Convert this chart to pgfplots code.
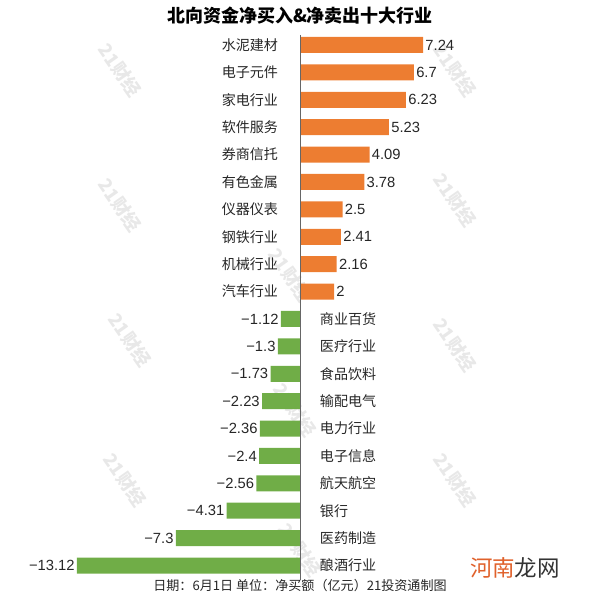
\documentclass[border=0pt]{standalone}
\usepackage{pgfplots}
\pgfplotsset{compat=1.18}
\usepackage{fontspec}
\setmainfont{Liberation Sans}
\newfontfamily\cjk{Noto Sans CJK SC}
\definecolor{barorange}{HTML}{ED7D31}
\definecolor{bargreen}{HTML}{70AD47}
\begin{document}
\begin{tikzpicture}
\useasboundingbox (0,0) rectangle (15cm,15cm);
% watermarks
\foreach \px/\py in {120/70,455/70,120/205,455/200,130/340,455/345,125/480,455/480,290/275,295/410,300/550}{
  \node[rotate=-55, text=black!9, inner sep=0pt, font=\cjk\bfseries\fontsize{13}{13}\selectfont] at ({\px*0.025cm},{15cm-\py*0.025cm}) {21财经};
}
\begin{axis}[
  at={(0,0)}, anchor=south west,
  width=15cm, height=15cm, scale only axis,
  xmin=-17.647, xmax=17.647,
  ymin=-20.258, ymax=1.642,
  xbar, bar shift=0pt, bar width=0.584,
  axis line style={draw=none},
  major tick style={draw=none},
  xtick=\empty,
  ytick={0,-1,...,-9},
  yticklabels={水泥建材,电子元件,家电行业,软件服务,券商信托,有色金属,仪器仪表,钢铁行业,机械行业,汽车行业},
  yticklabel style={font=\cjk\fontsize{10}{12}\selectfont, text=black!85, anchor=east, xshift=7.225cm},
  extra y ticks={-10,-11,...,-19},
  extra y tick labels={商业百货,医疗行业,食品饮料,输配电气,电力行业,电子信息,航天航空,银行,医药制造,酿酒行业},
  extra y tick style={yticklabel style={anchor=west, xshift=0.8cm}},
  point meta=explicit symbolic,
  nodes near coords,
  every node near coord/.append style={font=\fontsize{10.5}{12}\selectfont, text=black!85, inner sep=1.5pt},
  clip=false,
]
\addplot[fill=barorange, draw=none, nodes near coords style={anchor=west}] coordinates {
 (7.24,0) [7.24]
 (6.7,-1) [6.7]
 (6.23,-2) [6.23]
 (5.23,-3) [5.23]
 (4.09,-4) [4.09]
 (3.78,-5) [3.78]
 (2.5,-6) [2.5]
 (2.41,-7) [2.41]
 (2.16,-8) [2.16]
 (2,-9) [2]
};
\addplot[fill=bargreen, draw=none, nodes near coords style={anchor=east}] coordinates {
 (-1.12,-10) [−1.12]
 (-1.3,-11) [−1.3]
 (-1.73,-12) [−1.73]
 (-2.23,-13) [−2.23]
 (-2.36,-14) [−2.36]
 (-2.4,-15) [−2.4]
 (-2.56,-16) [−2.56]
 (-4.31,-17) [−4.31]
 (-7.3,-18) [−7.3]
 (-13.12,-19) [−13.12]
};
\draw[black!60, line width=0.6pt] (rel axis cs:0.5,{1-35/600}) -- (rel axis cs:0.5,{1-580/600});
\node[font=\cjk\bfseries\fontsize{12.8}{14}\selectfont] at (rel axis cs:0.5,{1-16/600}) {北向资金净买入\&净卖出十大行业};
\node[font=\cjk\fontsize{9.3}{11}\selectfont, text=black!85] at (rel axis cs:0.5,{1-586/600}) {日期：6月1日 单位：净买额（亿元）21投资通制图};
\node[font=\cjk\fontsize{16}{18}\selectfont] at (rel axis cs:{515/600},{1-568/600}) {\textcolor[HTML]{E0612B}{河南}\textcolor{black!80}{龙网}};
\end{axis}
\end{tikzpicture}
\end{document}
